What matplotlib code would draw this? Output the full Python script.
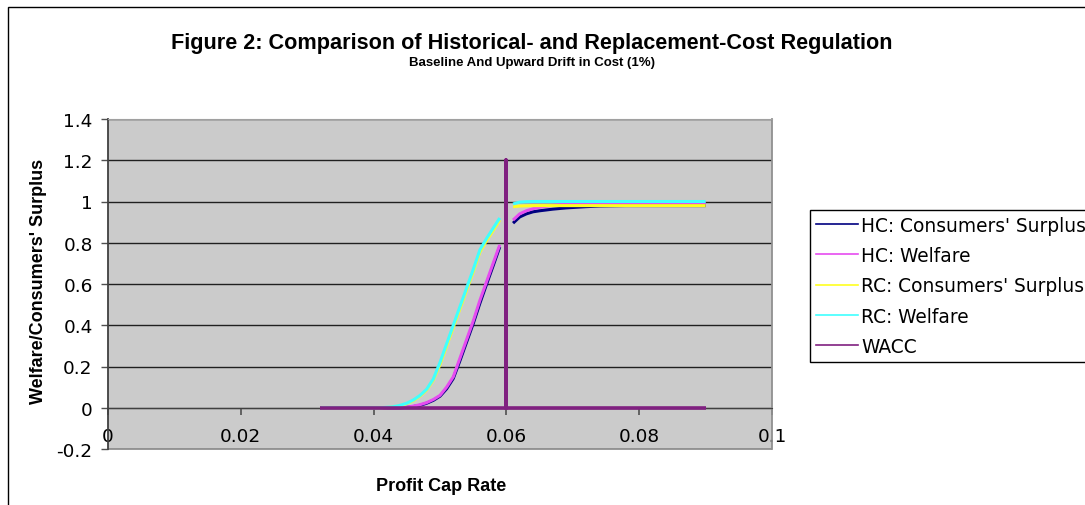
import matplotlib
matplotlib.use("Agg")
import matplotlib.pyplot as plt
from matplotlib.lines import Line2D
from matplotlib.patches import Rectangle

plt.rcParams['font.family'] = ['Liberation Sans', 'DejaVu Sans']

# ---- data ----
x_low = [0.032, 0.033, 0.034, 0.035, 0.036, 0.037, 0.038, 0.039, 0.040, 0.041,
         0.042, 0.043, 0.044, 0.045, 0.046, 0.047, 0.048, 0.049, 0.050, 0.051,
         0.052, 0.053, 0.054, 0.055, 0.056, 0.057, 0.058, 0.059]
x_high = [0.061, 0.062, 0.063, 0.064, 0.065, 0.066, 0.067, 0.068, 0.069, 0.070,
          0.072, 0.074, 0.076, 0.078, 0.080, 0.082, 0.084, 0.086, 0.088, 0.090]

hc_cs_low = [0, 0, 0, 0, 0, 0, 0, 0, 0, 0,
             0, 0, 0, 0.002, 0.006, 0.012, 0.022, 0.036, 0.056, 0.092,
             0.142, 0.228, 0.318, 0.408, 0.506, 0.598, 0.688, 0.78]
hc_w_low = [0, 0, 0, 0, 0, 0, 0, 0, 0, 0,
            0, 0, 0, 0.003, 0.008, 0.015, 0.025, 0.04, 0.06, 0.10,
            0.15, 0.24, 0.33, 0.42, 0.52, 0.61, 0.70, 0.79]
rc_cs_low = [0, 0, 0, 0, 0, 0, 0, 0, 0, 0,
             0.001, 0.004, 0.010, 0.020, 0.035, 0.057, 0.086, 0.135, 0.21, 0.30,
             0.39, 0.48, 0.57, 0.66, 0.755, 0.81, 0.86, 0.91]
rc_w_low = [0, 0, 0, 0, 0, 0, 0, 0, 0, 0,
            0.002, 0.005, 0.012, 0.022, 0.038, 0.06, 0.09, 0.14, 0.22, 0.31,
            0.40, 0.49, 0.58, 0.67, 0.765, 0.82, 0.87, 0.92]

hc_cs_high = [0.895, 0.925, 0.940, 0.950, 0.955, 0.959, 0.963, 0.966, 0.969, 0.971,
              0.975, 0.978, 0.979, 0.980, 0.980, 0.980, 0.980, 0.980, 0.980, 0.980]
hc_w_high = [0.91, 0.94, 0.955, 0.965, 0.972, 0.977, 0.981, 0.984, 0.987, 0.989,
             0.991, 0.992, 0.993, 0.993, 0.993, 0.993, 0.993, 0.993, 0.993, 0.993]
rc_cs_high = [0.975, 0.978, 0.979, 0.980, 0.980, 0.980, 0.980, 0.980, 0.980, 0.980,
              0.980, 0.980, 0.980, 0.980, 0.980, 0.980, 0.980, 0.980, 0.980, 0.980]
rc_w_high = [0.988, 0.997, 0.999, 1.0, 1.0, 1.0, 1.0, 1.0, 1.0, 1.0,
             1.0, 1.0, 1.0, 1.0, 1.0, 1.0, 1.0, 1.0, 1.0, 1.0]

wacc_x = [0.032, 0.06, 0.06, 0.06, 0.09]
wacc_y = [0, 0, 1.2, 0, 0]

series_names = ["HC: Consumers' Surplus", "HC: Welfare", "RC: Consumers' Surplus",
                "RC: Welfare", "WACC"]
colors = ['#000080', '#E64CF0', '#FFFF20', '#40FFFF', '#802080']

x_ticks = [0, 0.02, 0.04, 0.06, 0.08, 0.1]
x_tick_labels = ['0', '0.02', '0.04', '0.06', '0.08', '0.1']
y_ticks = [-0.2, 0, 0.2, 0.4, 0.6, 0.8, 1, 1.2, 1.4]
y_tick_labels = ['-0.2', '0', '0.2', '0.4', '0.6', '0.8', '1', '1.2', '1.4']

# ---- figure ----
W, H = 1085, 506
fig = plt.figure(figsize=(W / 100, H / 100), dpi=100)
fig.patch.set_facecolor('white')

# outer chart border (extends past right/bottom edges)
fig.patches.append(Rectangle((7.5 / W, -0.1), 1.2, 1 - 7.5 / H + 0.1,
                             transform=fig.transFigure, fill=False,
                             edgecolor='black', linewidth=1.0))

left, right, top, bottom = 108, 772, 120, 450
ax = fig.add_axes([left / W, 1 - bottom / H, (right - left) / W, (bottom - top) / H])
ax.set_facecolor('#CBCBCB')
ax.set_xlim(0, 0.1)
ax.set_ylim(-0.2, 1.4)

for yv in y_ticks:
    ax.axhline(yv, color='#202020', linewidth=1.0, zorder=1)

lw = 2.2
series_low = [hc_cs_low, hc_w_low, rc_cs_low, rc_w_low]
series_high = [hc_cs_high, hc_w_high, rc_cs_high, rc_w_high]
for i in range(4):
    ax.plot(x_low, series_low[i], color=colors[i], linewidth=lw, zorder=3 + i,
            solid_capstyle='butt')
    ax.plot(x_high, series_high[i], color=colors[i], linewidth=lw, zorder=3 + i,
            solid_capstyle='butt')
ax.plot(wacc_x, wacc_y, color=colors[4], linewidth=2.6, zorder=8, solid_capstyle='butt')

# spines
ax.spines['bottom'].set_position(('data', 0))
ax.spines['bottom'].set_color('#404040')
ax.spines['left'].set_color('#404040')
ax.spines['left'].set_linewidth(1.3)
ax.spines['right'].set_color('#909090')
ax.spines['top'].set_color('#A0A0A0')
ax.spines['right'].set_linewidth(1.3)
ax.spines['top'].set_linewidth(0.8)
ax.add_patch(Rectangle((0, 0), 1, 0, transform=ax.transAxes, fill=False,
                       edgecolor='#909090', linewidth=1.3, clip_on=False))

ax.set_xticks(x_ticks)
ax.set_xticklabels(x_tick_labels, family='DejaVu Sans')
ax.set_yticks(y_ticks)
ax.set_yticklabels(y_tick_labels, family='DejaVu Sans')
ax.tick_params(axis='x', direction='out', length=5, width=1.2, color='#505050',
               labelsize=13.3, pad=9)
ax.tick_params(axis='y', direction='out', length=5, width=1.0, color='#505050',
               labelsize=13.3, pad=6)

fig.text(532 / W, 1 - 43 / H,
         'Figure 2: Comparison of Historical- and Replacement-Cost Regulation',
         ha='center', va='center', fontsize=15.6, fontweight='bold')
fig.text(532 / W, 1 - 63 / H, 'Baseline And Upward Drift in Cost (1%)',
         ha='center', va='center', fontsize=9.5, fontweight='bold')
fig.text(39 / W, 1 - 281 / H, "Welfare/Consumers' Surplus", rotation=90,
         ha='center', va='center', fontsize=13, fontweight='bold')
fig.text(441 / W, 1 - 487 / H, 'Profit Cap Rate', ha='center', va='center',
         fontsize=13, fontweight='bold')

handles = [Line2D([0], [0], color=c, linewidth=1.2) for c in colors]
fig.legend(handles, series_names, loc='upper left',
           bbox_to_anchor=(810 / W, 1 - 211 / H),
           prop={'family': 'DejaVu Sans', 'size': 13.4},
           frameon=True, fancybox=False, edgecolor='black', framealpha=1,
           handlelength=2.26, handletextpad=0.2, labelspacing=0.61,
           borderpad=0.3, borderaxespad=0)

fig.savefig('out.png', dpi=100)
